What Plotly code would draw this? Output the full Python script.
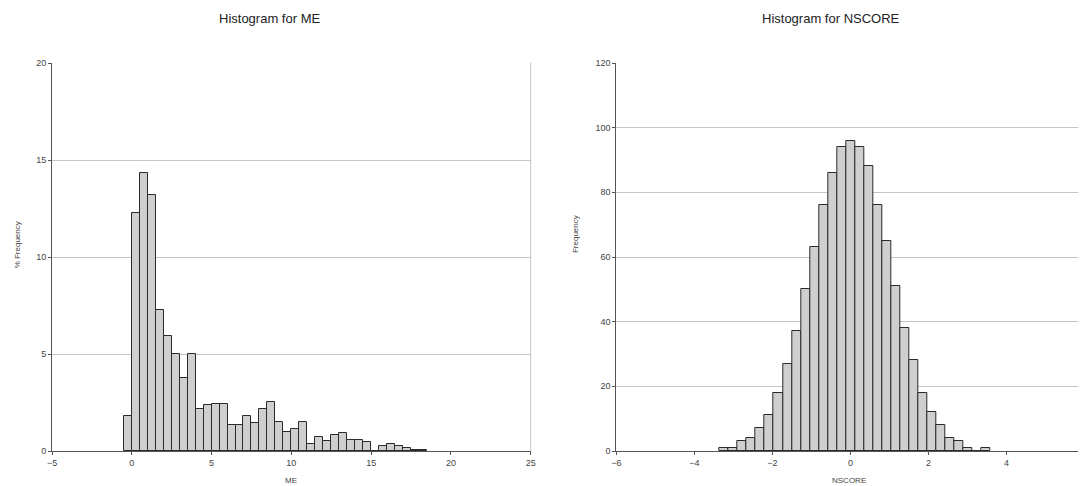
import plotly.graph_objects as go

# ---- Data: Histogram for ME (% frequency, bin width 0.5, left edges) ----
ME_BIN_LEFT = [-0.5, 0.0, 0.5, 1.0, 1.5, 2.0, 2.5, 3.0, 3.5, 4.0, 4.5, 5.0, 5.5,
               6.0, 6.5, 7.0, 7.5, 8.0, 8.5, 9.0, 9.5, 10.0, 10.5, 11.0, 11.5,
               12.0, 12.5, 13.0, 13.5, 14.0, 14.5, 15.0, 15.5, 16.0, 16.5,
               17.0, 17.5, 18.0]
ME_PCT = [1.80, 12.25, 14.35, 13.20, 7.25, 5.93, 5.00, 3.78, 5.00, 2.18, 2.35,
          2.44, 2.44, 1.32, 1.32, 1.80, 1.46, 2.18, 2.53, 1.50, 0.96, 1.12,
          1.48, 0.34, 0.70, 0.53, 0.82, 0.91, 0.57, 0.57, 0.48, 0.00, 0.26,
          0.34, 0.27, 0.17, 0.05, 0.05]
ME_BIN_WIDTH = 0.5
ME_TICKS = [-5, 0, 5, 10, 15, 20, 25]
ME_YTICKS = [0, 5, 10, 15, 20]

# ---- Data: Histogram for NSCORE (counts, bin centres) ----
NS_BIN_CENTER = [-3.234, -3.003, -2.772, -2.541, -2.310, -2.079, -1.848,
                 -1.617, -1.386, -1.155, -0.924, -0.693, -0.462, -0.231, 0.000,
                 0.231, 0.462, 0.693, 0.924, 1.155, 1.386, 1.617, 1.848, 2.079,
                 2.310, 2.541, 2.772, 3.003, 3.234, 3.465]
NS_COUNT = [1, 1, 3, 4, 7, 11, 18, 27, 37, 50, 63, 76, 86, 94, 96, 94, 88, 76,
            65, 51, 38, 28, 18, 12, 8, 4, 3, 1, 0, 1]
NS_BIN_WIDTH = 0.231
NS_TICKS = [-6, -4, -2, 0, 2, 4, 6]
NS_YTICKS = [0, 20, 40, 60, 80, 100, 120]

FONT = "Liberation Sans, Arial, sans-serif"
BAR_FILL = "#cfcfcf"
BAR_EDGE = "#2a2a2a"
GRID = "#c4c4c4"
AXIS = "#555555"
TICKFONT = dict(family=FONT, size=9, color="#444444")

fig = go.Figure()
fig.add_trace(go.Bar(x=ME_BIN_LEFT, y=ME_PCT, width=ME_BIN_WIDTH, offset=0,
                     marker=dict(color=BAR_FILL, line=dict(color=BAR_EDGE, width=1)),
                     xaxis="x", yaxis="y", showlegend=False))
fig.add_trace(go.Bar(x=NS_BIN_CENTER, y=NS_COUNT, width=NS_BIN_WIDTH,
                     marker=dict(color=BAR_FILL, line=dict(color=BAR_EDGE, width=1)),
                     xaxis="x2", yaxis="y2", showlegend=False))

axis_common = dict(showline=True, linecolor=AXIS, linewidth=1, ticks="outside",
                   ticklen=3, tickcolor=AXIS, tickfont=TICKFONT, zeroline=False)

# the page body adds an 8px offset; size/margins compensate for it
fig.update_layout(
    width=1078, height=478,
    margin=dict(l=44, r=0, t=55, b=35),
    paper_bgcolor="white", plot_bgcolor="white",
    bargap=0,
    xaxis=dict(domain=[0, 0.4652], range=[-5, 25], tickvals=ME_TICKS,
               showgrid=False, anchor="y", **axis_common),
    yaxis=dict(domain=[0, 1], range=[0, 20], tickvals=ME_YTICKS,
               showgrid=True, gridcolor=GRID, gridwidth=1, anchor="x", **axis_common),
    xaxis2=dict(domain=[0.5484, 1.0], range=[-6, 5.91], tickvals=NS_TICKS,
                showgrid=False, anchor="y2", **axis_common),
    yaxis2=dict(domain=[0, 1], range=[0, 120], tickvals=NS_YTICKS,
                showgrid=True, gridcolor=GRID, gridwidth=1, anchor="x2", **axis_common),
    font=dict(family=FONT),
)

# right border of left panel
fig.add_shape(type="line", xref="x domain", yref="y domain", x0=1, x1=1, y0=0, y1=1,
              line=dict(color=GRID, width=1))

ann = []
ann.append(dict(text="Histogram for ME", xref="x domain", yref="paper", x=0.455, y=1.0,
                xanchor="center", yanchor="middle", yshift=45, showarrow=False,
                font=dict(family=FONT, size=13, color="#222")))
ann.append(dict(text="Histogram for NSCORE", xref="x2 domain", yref="paper", x=0.462, y=1.0,
                xanchor="center", yanchor="middle", yshift=45, showarrow=False,
                font=dict(family=FONT, size=13, color="#222")))
ann.append(dict(text="ME", xref="x domain", yref="paper", x=0.5, y=0, yshift=-29,
                xanchor="center", yanchor="middle", showarrow=False,
                font=dict(family=FONT, size=8, color="#444")))
ann.append(dict(text="NSCORE", xref="x2 domain", yref="paper", x=0.5, y=0, yshift=-29,
                xanchor="center", yanchor="middle", showarrow=False,
                font=dict(family=FONT, size=8, color="#444")))
ann.append(dict(text="% Frequency", xref="x domain", yref="paper", x=0, xshift=-35, y=0.53,
                xanchor="center", yanchor="middle", textangle=-90, showarrow=False,
                font=dict(family=FONT, size=8, color="#444")))
ann.append(dict(text="Frequency", xref="x2 domain", yref="paper", x=0, xshift=-41, y=0.56,
                xanchor="center", yanchor="middle", textangle=-90, showarrow=False,
                font=dict(family=FONT, size=8, color="#444")))
fig.update_layout(annotations=ann)

fig.write_html("out.html")
